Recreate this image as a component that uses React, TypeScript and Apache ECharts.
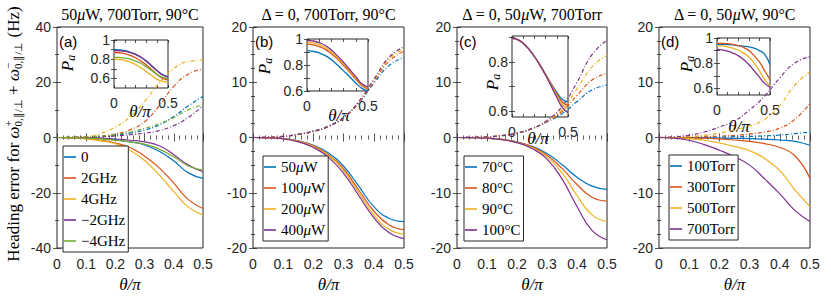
import React, { useEffect, useRef } from "react";
import * as echarts from "echarts";

// ---------- data ----------
const theta = [0, 0.05, 0.1, 0.15, 0.2, 0.25, 0.3, 0.35, 0.4, 0.45, 0.5];

// Panel (a): detuning
const aNames = ["0", "2GHz", "4GHz", "−2GHz", "−4GHz"];
const aSolid0 = [0, -0.03, -0.12, -0.35, -0.8, -1.6, -2.7, -5.0, -8.5, -12.8, -14.8];
const aSolid2 = [0, -0.1, -0.4, -1.0, -2.0, -3.6, -6.8, -11.0, -16.5, -22.5, -25.7];
const aSolid4 = [0, -0.15, -0.5, -1.2, -2.2, -4.6, -8.3, -13.5, -19.6, -25.2, -28.0];
const aSolidM2 = [0, -0.02, -0.08, -0.25, -0.55, -1.0, -1.6, -3.0, -6.2, -10.0, -12.4];
const aSolidM4 = [0, -0.05, -0.2, -0.5, -1.0, -1.6, -2.4, -4.2, -7.0, -10.3, -11.8];
const aDash0 = [0, 0.03, 0.12, 0.35, 0.8, 1.6, 2.7, 4.6, 7.6, 11.5, 14.8];
const aDash2 = [0, 0.03, 0.15, 0.5, 1.3, 2.8, 5.7, 11.5, 18.5, 23.0, 24.8];
const aDash4 = [0, 0.05, 0.3, 1.5, 3.8, 7.5, 13.0, 19.8, 25.0, 27.5, 28.0];
const aDashM2 = [0, 0.02, 0.08, 0.25, 0.55, 1.0, 1.6, 2.5, 4.3, 7.3, 11.5];
const aDashM4 = [0, 0.05, 0.2, 0.5, 1.1, 2.0, 3.3, 5.0, 7.2, 10.0, 11.8];
const aIn0 = [0.9, 0.897, 0.888, 0.872, 0.85, 0.82, 0.78, 0.73, 0.68, 0.64, 0.615];
const aIn2 = [0.87, 0.867, 0.858, 0.84, 0.815, 0.78, 0.74, 0.69, 0.64, 0.6, 0.585];
const aIn4 = [0.8, 0.797, 0.788, 0.77, 0.745, 0.71, 0.67, 0.63, 0.59, 0.57, 0.56];
const aInM2 = [0.89, 0.888, 0.882, 0.87, 0.85, 0.82, 0.78, 0.73, 0.68, 0.635, 0.612];
const aInM4 = [0.82, 0.818, 0.812, 0.8, 0.78, 0.755, 0.72, 0.68, 0.64, 0.61, 0.6];

// Panel (b): pump power
const bNames = ["50μW", "100μW", "200μW", "400μW"];
const bSolid50 = [0, -0.04, -0.18, -0.6, -1.4, -2.8, -5.2, -8.8, -12.5, -14.6, -15.2];
const bSolid100 = [0, -0.05, -0.2, -0.65, -1.5, -3.1, -5.7, -9.5, -13.3, -15.8, -16.7];
const bSolid200 = [0, -0.05, -0.22, -0.7, -1.6, -3.3, -6.0, -10.0, -14.0, -16.6, -17.5];
const bSolid400 = [0, -0.05, -0.25, -0.8, -1.8, -3.6, -6.5, -10.5, -14.5, -17.2, -18.3];
const bDash50 = [0, 0.05, 0.2, 0.6, 1.2, 2.1, 3.7, 6.2, 9.8, 13.0, 14.5];
const bDash100 = [0, 0.05, 0.2, 0.55, 1.1, 2.0, 3.6, 6.3, 10.1, 13.8, 15.6];
const bDash200 = [0, 0.05, 0.2, 0.55, 1.1, 2.0, 3.6, 6.4, 10.3, 14.2, 16.0];
const bDash400 = [0, 0.05, 0.2, 0.55, 1.1, 2.0, 3.6, 6.5, 10.5, 14.5, 16.4];
const bIn50 = [0.91, 0.905, 0.893, 0.872, 0.84, 0.8, 0.755, 0.71, 0.66, 0.62, 0.6];
const bIn100 = [0.96, 0.955, 0.942, 0.92, 0.885, 0.845, 0.795, 0.745, 0.69, 0.64, 0.615];
const bIn200 = [0.975, 0.97, 0.957, 0.935, 0.9, 0.858, 0.808, 0.755, 0.7, 0.648, 0.622];
const bIn400 = [0.99, 0.985, 0.972, 0.95, 0.915, 0.87, 0.82, 0.765, 0.71, 0.655, 0.63];

// Panel (c): temperature
const cNames = ["70°C", "80°C", "90°C", "100°C"];
const cSolid70 = [0, -0.03, -0.12, -0.35, -0.8, -1.6, -2.9, -4.9, -7.2, -8.8, -9.4];
const cSolid80 = [0, -0.03, -0.12, -0.35, -0.85, -1.7, -3.2, -5.6, -8.5, -10.8, -11.5];
const cSolid90 = [0, -0.03, -0.12, -0.37, -0.9, -1.8, -3.5, -6.4, -10.5, -14.0, -15.2];
const cSolid100 = [0, -0.03, -0.12, -0.4, -0.95, -2.0, -3.9, -7.5, -12.5, -16.8, -18.5];
const cDash70 = [0, 0.03, 0.12, 0.35, 0.8, 1.6, 2.8, 4.3, 6.5, 8.6, 9.5];
const cDash80 = [0, 0.03, 0.12, 0.35, 0.8, 1.6, 2.9, 4.7, 7.6, 10.4, 11.6];
const cDash90 = [0, 0.03, 0.12, 0.35, 0.8, 1.6, 3.0, 5.1, 8.8, 12.8, 14.9];
const cDash100 = [0, 0.03, 0.12, 0.35, 0.8, 1.6, 3.1, 5.6, 10.0, 15.0, 17.6];
const cIn70 = [0.895, 0.89, 0.875, 0.852, 0.822, 0.787, 0.75, 0.712, 0.677, 0.648, 0.638];
const cIn80 = [0.895, 0.89, 0.875, 0.852, 0.822, 0.787, 0.749, 0.709, 0.67, 0.637, 0.624];
const cIn90 = [0.895, 0.89, 0.875, 0.852, 0.822, 0.786, 0.748, 0.706, 0.664, 0.627, 0.611];
const cIn100 = [0.895, 0.89, 0.875, 0.852, 0.822, 0.786, 0.746, 0.702, 0.657, 0.615, 0.595];

// Panel (d): buffer gas pressure
const dNames = ["100Torr", "300Torr", "500Torr", "700Torr"];
const dSolid100 = [0, 0, -0.02, -0.05, -0.1, -0.15, -0.2, -0.3, -0.45, -0.7, -1.4];
const dSolid300 = [0, -0.02, -0.05, -0.12, -0.25, -0.45, -0.7, -1.1, -1.8, -3.3, -7.4];
const dSolid500 = [0, -0.05, -0.2, -0.5, -1.0, -1.6, -2.4, -3.8, -6.0, -9.5, -12.5];
const dSolid700 = [0, -0.1, -0.5, -1.3, -2.3, -3.5, -5.0, -7.5, -10.2, -13.2, -15.2];
const dDash100 = [0, 0, 0.02, 0.05, 0.1, 0.15, 0.2, 0.3, 0.45, 0.7, 1.0];
const dDash300 = [0, 0.02, 0.05, 0.12, 0.25, 0.4, 0.65, 1.0, 1.7, 3.3, 6.2];
const dDash500 = [0, 0.05, 0.15, 0.4, 0.8, 1.4, 2.1, 3.3, 5.8, 9.5, 11.9];
const dDash700 = [0, 0.1, 0.4, 1.0, 1.9, 3.0, 5.0, 7.5, 10.8, 13.5, 14.6];
const dIn100 = [0.95, 0.95, 0.948, 0.945, 0.94, 0.935, 0.93, 0.92, 0.9, 0.87, 0.79];
const dIn300 = [0.96, 0.958, 0.955, 0.95, 0.94, 0.925, 0.9, 0.86, 0.81, 0.74, 0.67];
const dIn500 = [0.94, 0.937, 0.93, 0.92, 0.905, 0.88, 0.85, 0.8, 0.74, 0.67, 0.62];
const dIn700 = [0.91, 0.905, 0.895, 0.88, 0.86, 0.83, 0.79, 0.74, 0.69, 0.64, 0.61];

const panelTitles = [
  "50{i|μ}W, 700Torr, 90°C",
  "Δ = 0, 700Torr, 90°C",
  "Δ = 0, 50{i|μ}W, 700Torr",
  "Δ = 0, 50{i|μ}W, 90°C",
];
const panelLetters = ["(a)", "(b)", "(c)", "(d)"];

// ---------- styling ----------
const AX = "#262626";
const SANS = "Liberation Sans";
const SERIF = "Liberation Serif";
const C = {
  blue: "#0072BD",
  orange: "#D95319",
  yellow: "#EDB120",
  purple: "#7E2F8E",
  green: "#77AC30",
};
const col4 = [C.blue, C.orange, C.yellow, C.purple];
const col5 = [C.blue, C.orange, C.yellow, C.purple, C.green];

function buildOption() {
  const grids: any[] = [];
  const xAxes: any[] = [];
  const yAxes: any[] = [];
  const series: any[] = [];

  const tick = (len: number) => ({ show: true, inside: true, length: len, lineStyle: { color: AX, width: 0.8 } });

  function addGrid(rect: any, xc: any, yc: any) {
    const gi = grids.length;
    grids.push({ ...rect, show: true, borderColor: AX, borderWidth: 1, backgroundColor: "transparent" });
    const xi = xAxes.length;
    const yi = yAxes.length;
    for (const pos of ["bottom", "top"]) {
      xAxes.push({
        type: "value",
        gridIndex: gi,
        position: pos,
        ...xc.range,
        axisLine: { show: false },
        axisTick: { ...tick(xc.tickLen), ...(xc.tickCustom ? { customValues: xc.tickCustom } : {}) },
        minorTick: { show: !!xc.minor, splitNumber: xc.minor || 5, length: xc.tickLen / 2, lineStyle: { color: AX, width: 0.8 } },
        splitLine: { show: false },
        axisLabel: {
          show: pos === "bottom",
          fontFamily: SANS,
          fontSize: 14,
          color: AX,
          margin: xc.margin,
          ...(xc.labelCustom ? { customValues: xc.labelCustom } : {}),
          formatter: (v: number) => String(Math.round(v * 1000) / 1000),
        },
      });
    }
    for (const pos of ["left", "right"]) {
      yAxes.push({
        type: "value",
        gridIndex: gi,
        position: pos,
        ...yc.range,
        axisLine: { show: false },
        axisTick: { ...tick(yc.tickLen), ...(yc.tickCustom ? { customValues: yc.tickCustom } : {}) },
        minorTick: { show: !!yc.minor, splitNumber: yc.minor || 5, length: yc.tickLen / 2, lineStyle: { color: AX, width: 0.8 } },
        splitLine: { show: false },
        axisLabel: {
          show: pos === "left",
          fontFamily: SANS,
          fontSize: 14,
          color: AX,
          margin: yc.margin,
          ...(yc.labelCustom ? { customValues: yc.labelCustom } : {}),
          formatter: (v: number) => String(Math.round(v * 1000) / 1000),
        },
      });
    }
    return { xi, yi };
  }

  function line(name: string, ax: any, arr: number[], color: string, dashed: boolean, width: number) {
    series.push({
      type: "line",
      name,
      xAxisIndex: ax.xi,
      yAxisIndex: ax.yi,
      data: theta.map((t, i) => [t, arr[i]]),
      symbol: "none",
      showSymbol: false,
      smooth: 0.5,
      silent: true,
      itemStyle: { color },
      lineStyle: { color, width, type: dashed ? [4, 2, 1, 2] : "solid" },
    });
  }

  const mainRects = [
    { left: 57, top: 27, width: 146, height: 221 },
    { left: 253, top: 27, width: 151, height: 221 },
    { left: 457, top: 27, width: 150, height: 221 },
    { left: 659, top: 27, width: 151, height: 221 },
  ];
  const mainX = { range: { min: 0, max: 0.5, interval: 0.1 }, minor: 5, tickLen: 4, margin: 9 };
  const yA = { range: { min: -40, max: 40, interval: 20 }, minor: 2, tickLen: 4, margin: 6 };
  const yB = { range: { min: -20, max: 20, interval: 10 }, minor: 4, tickLen: 4, margin: 6 };

  const axA = addGrid(mainRects[0], mainX, yA);
  const axB = addGrid(mainRects[1], mainX, yB);
  const axC = addGrid(mainRects[2], mainX, yB);
  const axD = addGrid(mainRects[3], mainX, yB);

  const insetRects = [
    { left: 114, top: 40, width: 54, height: 48 },
    { left: 307, top: 39, width: 61, height: 52 },
    { left: 512, top: 36, width: 56, height: 81 },
    { left: 717, top: 38, width: 53, height: 57 },
  ];
  const inX = {
    range: { min: 0, max: 0.5 },
    tickLen: 3,
    margin: 8,
    tickCustom: [0, 0.1, 0.2, 0.3, 0.4, 0.5],
    labelCustom: [0, 0.5],
  };
  const inY = (min: number, max: number, labels: number[]) => ({
    range: { min, max },
    tickLen: 3,
    margin: 4,
    tickCustom: [0.6, 0.7, 0.8, 0.9, 1.0].filter((v) => v >= min && v <= max),
    labelCustom: labels,
  });
  const iA = addGrid(insetRects[0], inX, inY(0.5, 1, [0.6, 0.8, 1]));
  const iB = addGrid(insetRects[1], inX, inY(0.6, 1, [0.6, 0.8, 1]));
  const iC = addGrid(insetRects[2], inX, inY(0.577, 0.905, [0.6, 0.8]));
  const iD = addGrid(insetRects[3], inX, inY(0.548, 1, [0.6, 0.8, 1]));

  const LW = 1.2;
  // Panel a
  const aS = [aSolid0, aSolid2, aSolid4, aSolidM2, aSolidM4];
  const aD = [aDash0, aDash2, aDash4, aDashM2, aDashM4];
  const aI = [aIn0, aIn2, aIn4, aInM2, aInM4];
  aNames.forEach((n, k) => line(n, axA, aS[k], col5[k], false, LW));
  aNames.forEach((n, k) => line("a+" + n, axA, aD[k], col5[k], true, LW));
  aNames.forEach((n, k) => line("ai" + n, iA, aI[k], col5[k], false, 1.3));
  // Panel b
  const bS = [bSolid50, bSolid100, bSolid200, bSolid400];
  const bD = [bDash50, bDash100, bDash200, bDash400];
  const bI = [bIn50, bIn100, bIn200, bIn400];
  bNames.forEach((n, k) => line(n, axB, bS[k], col4[k], false, LW));
  bNames.forEach((n, k) => line("b+" + n, axB, bD[k], col4[k], true, LW));
  bNames.forEach((n, k) => line("bi" + n, iB, bI[k], col4[k], false, 1.3));
  // Panel c
  const cS = [cSolid70, cSolid80, cSolid90, cSolid100];
  const cD = [cDash70, cDash80, cDash90, cDash100];
  const cI = [cIn70, cIn80, cIn90, cIn100];
  cNames.forEach((n, k) => line(n, axC, cS[k], col4[k], false, LW));
  cNames.forEach((n, k) => line("c+" + n, axC, cD[k], col4[k], true, LW));
  cNames.forEach((n, k) => line("ci" + n, iC, cI[k], col4[k], false, 1.3));
  // Panel d
  const dS = [dSolid100, dSolid300, dSolid500, dSolid700];
  const dD = [dDash100, dDash300, dDash500, dDash700];
  const dI = [dIn100, dIn300, dIn500, dIn700];
  dNames.forEach((n, k) => line(n, axD, dS[k], col4[k], false, LW));
  dNames.forEach((n, k) => line("d+" + n, axD, dD[k], col4[k], true, LW));
  dNames.forEach((n, k) => line("di" + n, iD, dI[k], col4[k], false, 1.3));

  const legend = (names: string[], left: number, top: number) => ({
    orient: "vertical",
    left,
    top,
    data: names,
    selectedMode: false,
    icon: "rect",
    padding: [3, 3, 3, 1],
    itemGap: 5,
    itemWidth: 12,
    itemHeight: 1.6,
    borderColor: AX,
    borderWidth: 1,
    borderRadius: 0,
    backgroundColor: "#fff",
    formatter: (n: string) => {
      const parts = n.split("μ");
      return parts.length > 1 ? `{n|${parts[0]}}{i|μ}{n|${parts[1]}}` : `{n|${n}}`;
    },
    textStyle: {
      fontFamily: SERIF,
      fontSize: 15,
      lineHeight: 16,
      color: "#000",
      rich: {
        n: { fontFamily: SERIF, fontSize: 15, lineHeight: 16, color: "#000" },
        i: { fontFamily: SERIF, fontStyle: "italic", fontSize: 15, lineHeight: 16, color: "#000" },
      },
    },
  });

  // graphics
  const graphics: any[] = [];
  const mainCenters = mainRects.map((r) => r.left + r.width / 2);
  panelTitles.forEach((t, k) => {
    graphics.push({
      type: "text",
      x: mainCenters[k],
      y: 14,
      style: {
        text: t,
        fontFamily: SERIF,
        fontSize: 16,
        fill: "#000",
        align: "center",
        verticalAlign: "middle",
        textAlign: "center",
        textVerticalAlign: "middle",
        rich: { i: { fontFamily: SERIF, fontStyle: "italic", fontSize: 16, fill: "#000" } },
      },
    });
    graphics.push({
      type: "text",
      x: mainRects[k].left + 2,
      y: 41,
      style: {
        text: panelLetters[k],
        fontFamily: SANS,
        fontSize: 15,
        fill: "#000",
        align: "left",
        verticalAlign: "middle",
        textAlign: "left",
        textVerticalAlign: "middle",
      },
    });
    graphics.push({
      type: "text",
      x: mainCenters[k],
      y: 284,
      style: {
        text: "θ/π",
        fontFamily: SERIF,
        fontStyle: "italic",
        fontSize: 17,
        fill: "#000",
        align: "center",
        verticalAlign: "middle",
        textAlign: "center",
        textVerticalAlign: "middle",
      },
    });
  });
  const insetTheta = [
    [140, 111],
    [339, 115],
    [538, 138],
    [739, 126],
  ];
  insetTheta.forEach(([x, y]) =>
    graphics.push({
      type: "text",
      x,
      y,
      style: {
        text: "θ/π",
        fontFamily: SERIF,
        fontStyle: "italic",
        fontSize: 17,
        fill: "#000",
        align: "center",
        verticalAlign: "middle",
        textAlign: "center",
        textVerticalAlign: "middle",
      },
    })
  );
  const paPos = [
    [67, 63],
    [264, 66],
    [492, 82],
    [686, 64],
  ];
  paPos.forEach(([x, y]) =>
    graphics.push({
      type: "text",
      x,
      y,
      rotation: Math.PI / 2,
      style: {
        text: "{p|P}{s|a}",
        align: "center",
        verticalAlign: "middle",
        textAlign: "center",
        textVerticalAlign: "middle",
        rich: {
          p: { fontFamily: SERIF, fontStyle: "italic", fontSize: 17, lineHeight: 20, fill: "#000" },
          s: { fontFamily: SERIF, fontStyle: "italic", fontSize: 12, lineHeight: 12, verticalAlign: "bottom", fill: "#000" },
        },
      },
    })
  );

  // rotated y-axis title with sub/superscripts
  const cv = document.createElement("canvas").getContext("2d") as CanvasRenderingContext2D;
  const tw = (s: string, size: number, italic: boolean) => {
    cv.font = `${italic ? "italic " : ""}${size}px "${SERIF}"`;
    return cv.measureText(s).width;
  };
  const kids: any[] = [];
  let cx = 0;
  const put = (text: string, size: number, italic: boolean, dy: number) => {
    kids.push({
      type: "text",
      x: cx,
      y: dy,
      style: {
        text,
        fontFamily: SERIF,
        fontStyle: italic ? "italic" : "normal",
        fontSize: size,
        fill: "#000",
        align: "left",
        verticalAlign: "middle",
        textAlign: "left",
        textVerticalAlign: "middle",
      },
    });
    return tw(text, size, italic);
  };
  const BIG = 17;
  const SM = 11;
  cx += put("Heading error for ", BIG, false, 0);
  cx += put("ω", BIG, true, 0);
  {
    const w1 = put("+", SM, false, -5);
    const w2 = put("0,∥/⊥", SM, false, 5);
    cx += Math.max(w1, w2);
  }
  cx += put(" + ", BIG, false, 0);
  cx += put("ω", BIG, true, 0);
  {
    const w1 = put("−", SM, false, -5);
    const w2 = put("0,∥/⊥", SM, false, 5);
    cx += Math.max(w1, w2);
  }
  cx += put(" (Hz)", BIG, false, 0);
  const total = cx;
  kids.forEach((k) => (k.x -= total / 2));
  graphics.push({ type: "group", x: 13, y: 134, rotation: Math.PI / 2, children: kids });

  return {
    animation: false,
    backgroundColor: "#fff",
    grid: grids,
    xAxis: xAxes,
    yAxis: yAxes,
    series,
    legend: [
      legend(aNames, 63, 146),
      legend(bNames, 263, 156),
      legend(cNames, 464, 156),
      legend(dNames, 669, 155),
    ],
    graphic: graphics,
  };
}

export default function App() {
  const ref = useRef<HTMLDivElement>(null);
  useEffect(() => {
    if (!ref.current) return;
    const chart = echarts.init(ref.current, undefined, { renderer: "svg" });
    chart.setOption(buildOption() as any);
    return () => chart.dispose();
  }, []);
  return (
    <div
      ref={ref}
      style={{ position: "fixed", left: 0, top: 0, width: 831, height: 300, background: "#fff" }}
    />
  );
}
